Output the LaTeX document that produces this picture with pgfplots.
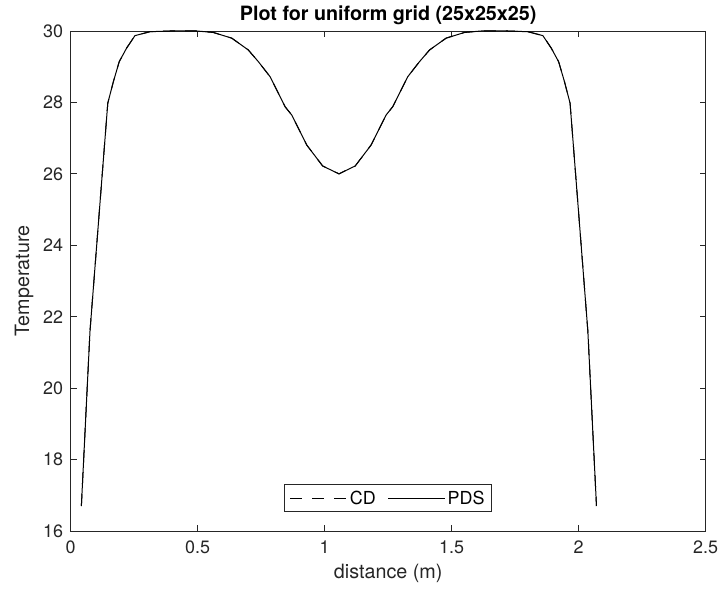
\documentclass[border=0pt]{standalone}
\usepackage{fontspec}
\setmainfont{TeX Gyre Heros}
\usepackage{pgfplots}
\usepackage{pgfplotstable}
\pgfplotsset{compat=1.18}
\definecolor{axgray}{RGB}{38,38,38}
\pgfplotstableread{
x T
0.042 16.70
0.076 21.60
0.146 27.98
0.168 28.58
0.191 29.14
0.220 29.52
0.253 29.87
0.312 29.98
0.391 30.00
0.450 30.00
0.496 30.00
0.561 29.96
0.634 29.80
0.699 29.47
0.739 29.14
0.785 28.72
0.811 28.35
0.844 27.88
0.870 27.65
0.896 27.28
0.929 26.81
0.992 26.22
1.056 26.00
1.120 26.22
1.183 26.81
1.216 27.28
1.242 27.65
1.268 27.88
1.301 28.35
1.327 28.72
1.373 29.14
1.413 29.47
1.478 29.80
1.551 29.96
1.616 30.00
1.662 30.00
1.721 30.00
1.800 29.98
1.859 29.87
1.892 29.52
1.921 29.14
1.944 28.58
1.966 27.98
2.036 21.60
2.070 16.70
}\cddata
\pgfplotstableread{
x T
0.042 16.70
0.076 21.60
0.146 27.98
0.168 28.58
0.191 29.14
0.220 29.52
0.253 29.87
0.312 29.98
0.391 30.00
0.450 30.00
0.496 30.00
0.561 29.96
0.634 29.80
0.699 29.47
0.739 29.14
0.785 28.72
0.811 28.35
0.844 27.88
0.870 27.65
0.896 27.28
0.929 26.81
0.992 26.22
1.056 26.00
1.120 26.22
1.183 26.81
1.216 27.28
1.242 27.65
1.268 27.88
1.301 28.35
1.327 28.72
1.373 29.14
1.413 29.47
1.478 29.80
1.551 29.96
1.616 30.00
1.662 30.00
1.721 30.00
1.800 29.98
1.859 29.87
1.892 29.52
1.921 29.14
1.944 28.58
1.966 27.98
2.036 21.60
2.070 16.70
}\pdsdata
\begin{document}
\begin{tikzpicture}
\begin{axis}[
  name=ax, at={(0,0)}, anchor=south west,
  scale only axis, width=635bp, height=500bp,
  xmin=0, xmax=2.5, ymin=16, ymax=30,
  xtick={0,0.5,1,1.5,2,2.5}, ytick={16,18,...,30},
  xticklabels={0,0.5,1,1.5,2,2.5},
  tick align=inside, major tick length=6bp,
  axis line style={axgray, line width=0.8bp},
  tick style={axgray, line width=0.8bp},
  ticklabel style={font=\fontsize{18}{20}\selectfont, text=axgray},
  /pgf/number format/assume math mode=true,
  xticklabel style={yshift=-6bp},
  yticklabel style={xshift=-4bp},
  title={\textbf{Plot for uniform grid (25x25x25)}},
  title style={font=\fontsize{19.8}{22}\selectfont, yshift=-3bp},
  xlabel={distance (m)}, ylabel={Temperature},
  label style={font=\fontsize{19.8}{22}\selectfont, text=axgray},
  xlabel style={yshift=-4bp},
  ylabel style={yshift=3bp},
  legend columns=2,
  legend style={at={(0.5,0.038)}, anchor=south, draw=axgray, line width=0.8bp,
    font=\fontsize{18}{20}\selectfont, inner ysep=4bp, inner xsep=5bp,
    /tikz/every even column/.append style={column sep=10bp}},
  legend image code/.code={\draw[#1] (0bp,0bp) -- (57bp,0bp);},
]
\addplot[black, line width=1bp, dash pattern=on 12bp off 10bp] table[x=x, y=T] {\cddata};
\addlegendentry{CD}
\addplot[black, line width=1bp] table[x=x, y=T] {\pdsdata};
\addlegendentry{PDS}
\end{axis}
\pgfresetboundingbox
\path ([xshift=-70.7bp,yshift=-62bp]ax.south west) rectangle ([xshift=12.3bp,yshift=31bp]ax.north east);
\end{tikzpicture}
\end{document}
